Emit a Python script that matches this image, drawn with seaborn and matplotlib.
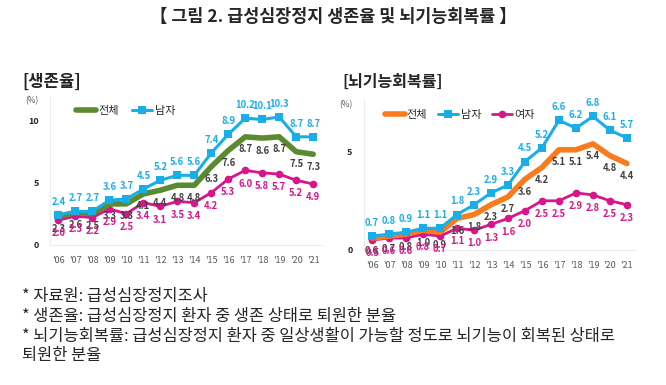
import pandas as pd
import matplotlib.pyplot as plt
import seaborn as sns

# data
years = ["'06", "'07", "'08", "'09", "'10", "'11", "'12", "'13",
         "'14", "'15", "'16", "'17", "'18", "'19", "'20", "'21"]

surv_total = [2.3, 2.6, 2.5, 3.3, 3.3, 4.1, 4.4, 4.8, 4.8, 6.3, 7.6, 8.7, 8.6, 8.7, 7.5, 7.3]
surv_male = [2.4, 2.7, 2.7, 3.6, 3.7, 4.5, 5.2, 5.6, 5.6, 7.4, 8.9, 10.2, 10.1, 10.3, 8.7, 8.7]
surv_female = [2.0, 2.3, 2.2, 2.9, 2.5, 3.4, 3.1, 3.5, 3.4, 4.2, 5.3, 6.0, 5.8, 5.7, 5.2, 4.9]

brain_total = [0.6, 0.7, 0.8, 1.0, 0.9, 1.6, 1.8, 2.3, 2.7, 3.6, 4.2, 5.1, 5.1, 5.4, 4.8, 4.4]
brain_male = [0.7, 0.8, 0.9, 1.1, 1.1, 1.8, 2.3, 2.9, 3.3, 4.5, 5.2, 6.6, 6.2, 6.8, 6.1, 5.7]
brain_female = [0.5, 0.6, 0.6, 0.8, 0.7, 1.1, 1.0, 1.3, 1.6, 2.0, 2.5, 2.5, 2.9, 2.8, 2.5, 2.3]

title = "【 그림 2. 급성심장정지 생존율 및 뇌기능회복률 】"
notes = ["* 자료원: 급성심장정지조사",
         "* 생존율: 급성심장정지 환자 중 생존 상태로 퇴원한 분율",
         "* 뇌기능회복률: 급성심장정지 환자 중 일상생활이 가능할 정도로 뇌기능이 회복된 상태로",
         "퇴원한 분율"]

GREEN = "#5b8a31"
ORANGE = "#f97b1c"
BLUE = "#1aaee8"
MAGENTA = "#d8168c"
GRAY = "#404040"

sns.set_style("white")
plt.rcParams['font.family'] = ['Noto Sans CJK KR', 'DejaVu Sans']

idx = list(range(len(years)))


def draw_panel(ax, total, male, female, total_color, ymax, yticks, show_female_legend):
    df = pd.DataFrame({"x": idx, "total": total, "male": male, "female": female})

    sns.lineplot(data=df, x="x", y="female", ax=ax, color=MAGENTA, lw=2.0,
                 marker="o", markersize=5.5, markeredgewidth=0, label="여자")
    sns.lineplot(data=df, x="x", y="total", ax=ax, color=total_color, lw=4.0,
                 label="전체")
    sns.lineplot(data=df, x="x", y="male", ax=ax, color=BLUE, lw=2.2,
                 marker="s", markersize=5.5, markeredgewidth=0, label="남자")

    for i in idx:
        ax.annotate(f"{male[i]:.1f}", (i, male[i]), xytext=(0, 9.5), textcoords="offset points",
                    ha="center", va="center", fontsize=6.8, fontweight="bold", color=BLUE)
        ax.annotate(f"{total[i]:.1f}", (i, total[i]), xytext=(0, -9), textcoords="offset points",
                    ha="center", va="center", fontsize=6.8, fontweight="bold", color=GRAY)
        ax.annotate(f"{female[i]:.1f}", (i, female[i]), xytext=(0, -9.5), textcoords="offset points",
                    ha="center", va="center", fontsize=6.8, fontweight="bold", color=MAGENTA)

    ax.set_xlim(-0.5, len(years) - 0.5)
    ax.set_ylim(0, ymax)
    ax.set_xticks(idx)
    ax.set_xticklabels(years, fontsize=6.5, color="#595959")
    ax.set_yticks(yticks)
    ax.set_yticklabels([str(t) for t in yticks], fontsize=6.5, fontweight="bold")
    ax.tick_params(axis="both", length=0, pad=8)
    ax.set_xlabel("")
    ax.set_ylabel("")
    for s in ["top", "right"]:
        ax.spines[s].set_visible(False)
    for s in ["left", "bottom"]:
        ax.spines[s].set_color("#ececec")
        ax.spines[s].set_linewidth(0.8)
    ax.text(-0.065, 0.97, "(%)", transform=ax.transAxes, fontsize=6, color="#595959",
            ha="center", va="center")

    handles, labels = ax.get_legend_handles_labels()
    order = [1, 2, 0] if show_female_legend else [1, 2]
    ax.legend([handles[k] for k in order], [labels[k] for k in order],
              loc="upper left", bbox_to_anchor=(0.04 if show_female_legend else 0.06, 1.0),
              ncol=len(order), frameon=False, fontsize=8, handlelength=1.8,
              handletextpad=0.2, columnspacing=1.0 if show_female_legend else 1.2)


fig = plt.figure(figsize=(6.66, 3.85), dpi=100)
ax1 = fig.add_axes([0.075, 0.364, 0.408, 0.387])
ax2 = fig.add_axes([0.546, 0.351, 0.408, 0.39])

draw_panel(ax1, surv_total, surv_male, surv_female, GREEN, 12, [0, 5, 10], False)
draw_panel(ax2, brain_total, brain_male, brain_female, ORANGE, 7.65, [0, 5], True)

fig.text(0.5, 0.955, title, ha="center", va="center", fontsize=12.5, fontweight="bold")
fig.text(0.033, 0.787, "[생존율]", ha="left", va="center", fontsize=12, fontweight="bold")
fig.text(0.514, 0.787, "[뇌기능회복률]", ha="left", va="center", fontsize=11.5, fontweight="bold")

for k, line in enumerate(notes):
    fig.text(0.033, 1 - (297 + 19.5 * k) / 385, line, ha="left", va="center", fontsize=11.8)

fig.savefig("out.png", dpi=100)
